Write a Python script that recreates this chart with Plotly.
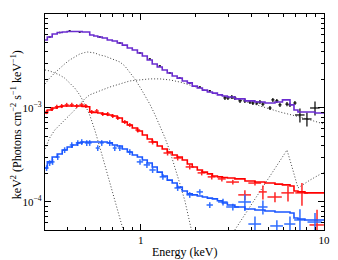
import plotly.graph_objects as go

# ---- model grid (keV) ----
model_E = [0.30, 0.318, 0.339, 0.361, 0.384, 0.409, 0.436, 0.464, 0.494, 0.513,
           0.540, 0.568, 0.597, 0.636, 0.677, 0.721, 0.768, 0.818, 0.871, 0.927,
           0.99, 1.05, 1.12, 1.19, 1.27, 1.35, 1.44, 1.53, 1.63, 1.74,
           1.85, 1.97, 2.10, 2.24, 2.38, 2.54, 2.70, 2.88, 3.06,
           3.48, 3.94, 4.47, 5.07, 5.75, 6.12, 6.36, 6.69, 7.03, 7.39, 8.38, 9.51, 10.0]
model_purple = [5.28e-3, 5.69e-3, 6.12e-3, 6.35e-3, 6.44e-3, 6.52e-3, 6.52e-3, 6.52e-3, 6.44e-3, 6.44e-3,
                5.98e-3, 5.83e-3, 5.69e-3, 5.56e-3, 5.28e-3, 5.16e-3, 4.91e-3, 4.67e-3, 4.35e-3, 4.14e-3,
                3.85e-3, 3.57e-3, 3.24e-3, 2.94e-3, 2.73e-3, 2.54e-3, 2.36e-3, 2.19e-3, 2.08e-3, 1.94e-3,
                1.85e-3, 1.71e-3, 1.63e-3, 1.55e-3, 1.48e-3, 1.44e-3, 1.38e-3, 1.34e-3, 1.31e-3,
                1.25e-3, 1.19e-3, 1.16e-3, 1.13e-3, 1.16e-3, 1.22e-3, 1.22e-3, 1.08e-3, 9.53e-4, 9.06e-4, 9.06e-4, 8.85e-4, 8.85e-4]
model_red = [8.85e-4, 9.53e-4, 1.0e-3, 1.03e-3, 1.05e-3, 1.05e-3, 1.05e-3, 1.05e-3, 1.04e-3, 1.03e-3,
             9.06e-4, 8.95e-4, 8.85e-4, 8.6e-4, 8.43e-4, 8.23e-4, 7.83e-4, 7.10e-4, 6.59e-4, 6.13e-4,
             5.69e-4, 5.16e-4, 4.68e-4, 4.35e-4, 3.94e-4, 3.66e-4, 3.40e-4, 3.16e-4, 3.01e-4, 2.80e-4,
             2.54e-4, 2.36e-4, 2.19e-4, 2.08e-4, 1.99e-4, 1.89e-4, 1.85e-4, 1.82e-4, 1.80e-4,
             1.76e-4, 1.67e-4, 1.63e-4, 1.59e-4, 1.55e-4, 1.52e-4, 1.52e-4, 1.48e-4, 1.31e-4, 1.28e-4, 1.25e-4, 1.25e-4, 1.25e-4]
model_blue = [2.30e-4, 2.67e-4, 3.01e-4, 3.24e-4, 3.57e-4, 3.85e-4, 4.04e-4, 4.25e-4, 4.35e-4, 4.35e-4,
              4.35e-4, 4.35e-4, 4.35e-4, 4.35e-4, 4.25e-4, 4.04e-4, 3.94e-4, 3.66e-4, 3.40e-4, 3.16e-4,
              3.01e-4, 2.80e-4, 2.60e-4, 2.36e-4, 2.08e-4, 1.89e-4, 1.71e-4, 1.59e-4, 1.44e-4, 1.31e-4,
              1.22e-4, 1.19e-4, 1.16e-4, 1.13e-4, 1.10e-4, 1.08e-4, 1.03e-4, 9.76e-5, 9.29e-5,
              8.85e-5, 8.43e-5, 8.22e-5, 8.02e-5, 7.83e-5, 7.83e-5, 7.83e-5, 7.64e-5, 6.76e-5, 6.59e-5, 6.44e-5, 6.44e-5, 6.44e-5]

# ---- model components (dotted) ----
compB_E = [0.30, 0.318, 0.339, 0.361, 0.384, 0.409, 0.436, 0.464, 0.494, 0.526, 0.561, 0.597, 0.636, 0.677, 0.721, 0.768, 0.807]
compB_F = [2.54e-3, 2.48e-3, 2.36e-3, 2.24e-3, 2.08e-3, 1.85e-3, 1.63e-3, 1.38e-3, 1.10e-3, 8.43e-4, 5.83e-4, 3.85e-4, 2.48e-4, 1.63e-4, 1.05e-4, 6.92e-5, 4.80e-5]
compA_E = [0.30, 0.318, 0.339, 0.361, 0.384, 0.409, 0.436, 0.464, 0.494, 0.513, 0.561, 0.597, 0.636, 0.677, 0.768,
           0.818, 0.871, 0.927, 0.99, 1.05, 1.12, 1.19, 1.27, 1.35, 1.44, 1.53, 1.63, 1.74, 1.85, 1.90]
compA_F = [1.80e-3, 2.08e-3, 2.36e-3, 2.67e-3, 2.94e-3, 3.24e-3, 3.49e-3, 3.75e-3, 3.89e-3, 3.94e-3, 3.85e-3, 3.66e-3, 3.57e-3, 3.40e-3, 3.09e-3,
           2.80e-3, 2.41e-3, 2.04e-3, 1.67e-3, 1.38e-3, 1.10e-3, 8.63e-4, 6.59e-4, 4.91e-4, 3.49e-4, 2.42e-4, 1.59e-4, 1.03e-4, 6.12e-5, 4.80e-5]
compC_E = [0.30, 0.318, 0.339, 0.361, 0.384, 0.409, 0.436, 0.464, 0.494, 0.526, 0.561, 0.597, 0.677, 0.768, 0.871, 0.99,
           1.12, 1.27, 1.44, 1.63, 1.85, 2.10, 2.38, 2.70, 3.06, 3.48, 3.94, 4.64, 5.75, 7.39, 10.0]
compC_F = [3.66e-4, 4.80e-4, 5.83e-4, 6.59e-4, 7.45e-4, 8.23e-4, 9.53e-4, 1.10e-3, 1.25e-3, 1.38e-3, 1.44e-3, 1.52e-3, 1.67e-3, 1.80e-3, 1.94e-3, 1.99e-3,
           2.04e-3, 2.04e-3, 1.99e-3, 1.89e-3, 1.76e-3, 1.63e-3, 1.48e-3, 1.38e-3, 1.28e-3, 1.22e-3, 1.13e-3, 1.03e-3, 9.06e-4, 8.02e-4, 6.76e-4]
compD_E = [3.26, 3.48, 3.94, 4.47, 5.07, 5.75, 6.28, 6.69, 7.21, 8.38, 10.0]
compD_F = [5.04e-5, 6.12e-5, 8.85e-5, 1.31e-4, 1.89e-4, 2.73e-4, 3.57e-4, 2.36e-4, 1.41e-4, 1.71e-4, 2.08e-4]

# ---- data (energy, flux, fractional x / y errors) ----
black_E = [0.318, 0.361, 0.409, 0.464, 0.597, 0.768, 0.99, 1.12, 1.27, 1.44, 1.63, 1.85, 2.10, 2.38,
           2.88, 2.99, 3.14, 3.26, 3.48, 3.70, 3.94, 4.09, 4.30, 4.47, 4.64, 5.07, 5.26, 5.53, 5.75,
           6.28, 6.52, 6.94, 7.39, 8.07, 8.93]
black_F = [5.69e-3, 6.35e-3, 6.59e-3, 6.44e-3, 5.69e-3, 4.91e-3, 3.85e-3, 3.32e-3, 2.80e-3, 2.36e-3, 2.08e-3, 1.85e-3, 1.67e-3, 1.52e-3,
           1.28e-3, 1.28e-3, 1.31e-3, 1.28e-3, 1.19e-3, 1.19e-3, 1.16e-3, 1.13e-3, 1.13e-3, 1.16e-3, 1.10e-3, 1.0e-3, 1.22e-3, 1.19e-3, 1.08e-3,
           1.10e-3, 1.08e-3, 1.13e-3, 8.43e-4, 7.64e-4, 1.0e-3]
black_xe = [0.015] * 14 + [0.02] * 18 + [0.06, 0.06, 0.06]
black_ye = [0.02] * 14 + [0.05] * 18 + [0.17, 0.17, 0.17]

red_E = [0.306, 0.327, 0.348, 0.370, 0.394, 0.420, 0.447, 0.476, 0.501, 0.540, 0.575, 0.620, 0.660, 0.703, 0.749, 0.818, 0.871,
         0.963, 1.16, 1.40, 1.59, 1.85, 2.15, 2.44, 2.77, 3.18, 3.70, 4.20, 4.64, 5.40, 6.36, 7.58, 9.16]
red_F = [9.06e-4, 9.76e-4, 1.03e-3, 1.05e-3, 1.08e-3, 1.08e-3, 1.05e-3, 1.08e-3, 1.05e-3, 9.06e-4, 9.29e-4, 8.63e-4, 8.63e-4, 8.23e-4, 7.83e-4, 7.10e-4, 6.59e-4,
         5.83e-4, 4.35e-4, 3.32e-4, 2.94e-4, 2.36e-4, 2.04e-4, 1.85e-4, 1.76e-4, 1.63e-4, 1.19e-4, 1.59e-4, 1.28e-4, 1.13e-4, 1.25e-4, 1.25e-4, 5.70e-5]
red_xe = [0.025] * 17 + [0.03, 0.05, 0.05, 0.05, 0.05, 0.05, 0.05, 0.05, 0.08, 0.08, 0.08, 0.05, 0.09, 0.08, 0.08, 0.09]
red_ye = [0.05] * 17 + [0.06, 0.06, 0.06, 0.06, 0.06, 0.06, 0.06, 0.06, 0.06, 0.12, 0.06, 0.17, 0.12, 0.19, 0.27, 0.45]

blue_E = [0.306, 0.318, 0.330, 0.352, 0.384, 0.420, 0.453, 0.476, 0.507, 0.526, 0.582, 0.612, 0.677, 0.721, 0.768, 0.871,
          0.99, 1.08, 1.16, 1.32, 1.59, 1.85, 2.10, 2.38, 2.81, 3.18, 3.70, 4.20, 4.64, 5.53, 6.52, 7.39, 8.93]
blue_F = [2.30e-4, 2.60e-4, 2.67e-4, 3.01e-4, 3.57e-4, 4.04e-4, 4.25e-4, 4.35e-4, 4.25e-4, 4.25e-4, 3.75e-4, 4.25e-4, 4.25e-4, 3.75e-4, 3.75e-4, 3.40e-4,
          2.67e-4, 2.48e-4, 2.19e-4, 1.85e-4, 1.41e-4, 1.19e-4, 1.28e-4, 9.29e-5, 1.0e-4, 8.85e-5, 1.0e-4, 5.83e-5, 8.85e-5, 5.56e-5, 5.83e-5, 6.44e-5, 6.12e-5]
blue_xe = [0.025] * 16 + [0.04] * 8 + [0.06, 0.08, 0.08, 0.08, 0.06, 0.08, 0.07, 0.07, 0.09]
blue_ye = [0.07] * 16 + [0.07] * 8 + [0.08, 0.08, 0.2, 0.2, 0.17, 0.15, 0.2, 0.3, 0.25]

# ---- axis ticks ----
x_major = [1, 10]
x_major_text = ["1", "10"]
x_minor = [0.3, 0.4, 0.5, 0.6, 0.7, 0.8, 0.9, 2, 3, 4, 5, 6, 7, 8, 9]
y_major = [1e-4, 1e-3, 1e-2]
y_major_text = ["10<sup>−4</sup>", "10<sup>−3</sup>", "10<sup>−2</sup>"]
y_minor = [m * 10.0 ** e for e in (-5, -4, -3) for m in range(2, 10)]

fig = go.Figure()

dot = dict(color="#444444", width=1, dash="1px,2px")
for cx, cy in [(compB_E, compB_F), (compA_E, compA_F), (compC_E, compC_F), (compD_E, compD_F)]:
    fig.add_trace(go.Scatter(x=cx, y=cy, mode="lines", line=dot, showlegend=False, hoverinfo="skip"))


def data_trace(E, F, xe, ye, color, thick):
    return go.Scatter(
        x=E, y=F, mode="markers", marker=dict(size=1, color=color, opacity=0),
        error_x=dict(type="data", array=[e * f for e, f in zip(xe, E)], color=color, thickness=thick, width=0),
        error_y=dict(type="data", array=[e * f for e, f in zip(ye, F)], color=color, thickness=thick, width=0),
        showlegend=False)


fig.add_trace(data_trace(black_E, black_F, black_xe, black_ye, "#000000", 1.2))
fig.add_trace(data_trace(red_E, red_F, red_xe, red_ye, "#ff2424", 1.5))
fig.add_trace(data_trace(blue_E, blue_F, blue_xe, blue_ye, "#2f6dff", 1.5))

fig.add_trace(go.Scatter(x=model_E, y=model_purple, mode="lines", line=dict(color="#6a2ccf", width=1.6, shape="hvh"), showlegend=False))
fig.add_trace(go.Scatter(x=model_E, y=model_red, mode="lines", line=dict(color="#ff0000", width=1.6, shape="hvh"), showlegend=False))
fig.add_trace(go.Scatter(x=model_E, y=model_blue, mode="lines", line=dict(color="#1a56ff", width=1.6, shape="hvh"), showlegend=False))

font = dict(family="Liberation Serif, DejaVu Serif, serif", size=11, color="black")
title_font = dict(family="Liberation Serif, DejaVu Serif, serif", size=12, color="black")

# the page places the figure 8px in from the top-left corner
fig.update_layout(
    width=330, height=252,
    margin=dict(l=37, r=14, t=6, b=30),
    paper_bgcolor="white", plot_bgcolor="white",
    font=font,
    xaxis=dict(type="log", range=[-0.5229, 1.0], showgrid=False, zeroline=False,
               showline=True, linecolor="black", linewidth=1.2, mirror="ticks",
               ticks="inside", ticklen=6, tickcolor="black", tickwidth=1,
               tickmode="array", tickvals=x_major, ticktext=x_major_text,
               minor=dict(tickmode="array", tickvals=x_minor, ticks="inside", ticklen=3, tickcolor="black", showgrid=False),
               tickfont=font),
    yaxis=dict(type="log", range=[-4.298, -2.0], showgrid=False, zeroline=False,
               showline=True, linecolor="black", linewidth=1.2, mirror="ticks",
               ticks="inside", ticklen=6, tickcolor="black", tickwidth=1,
               tickmode="array", tickvals=y_major, ticktext=y_major_text,
               minor=dict(tickmode="array", tickvals=y_minor, ticks="inside", ticklen=3, tickcolor="black", showgrid=False),
               tickfont=font),
    annotations=[
        dict(text="Energy (keV)", xref="paper", yref="paper", x=0.5, y=-0.102, xanchor="center", yanchor="middle",
             showarrow=False, font=title_font),
        dict(text="keV<sup>2</sup> (Photons cm<sup>−2</sup> s<sup>−1</sup> keV<sup>−1</sup>)", xref="paper", yref="paper",
             x=-0.104, y=0.49, xanchor="center", yanchor="middle", textangle=-90, showarrow=False,
             font=title_font),
    ],
)

fig.write_html("out.html")
